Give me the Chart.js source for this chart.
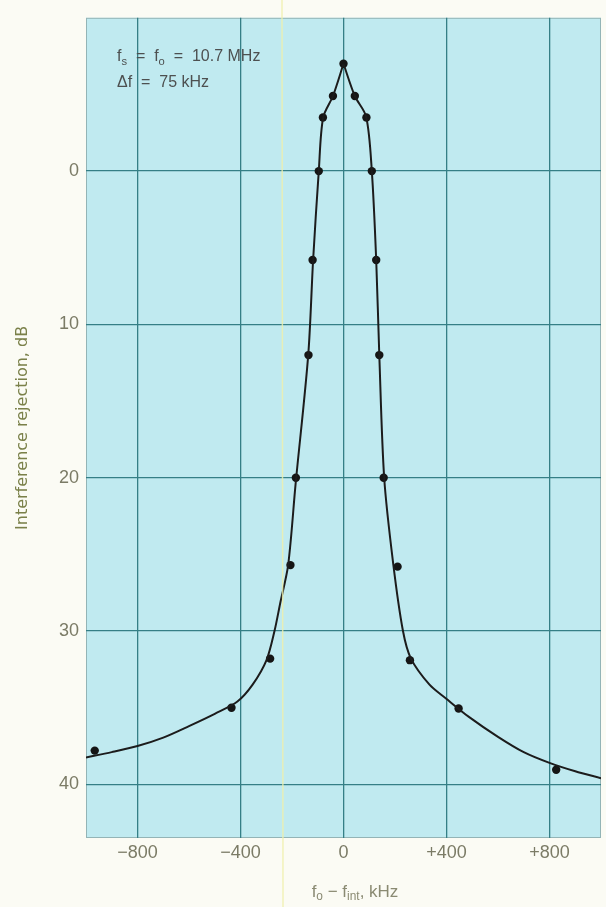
<!DOCTYPE html>
<html>
<head>
<meta charset="utf-8">
<script src="https://cdn.jsdelivr.net/npm/chart.js@4.4.1/dist/chart.umd.min.js"></script>
<style>
  html, body { margin: 0; background: #fbfbf4; }
  #wrap { width: 606px; height: 907px; }
</style>
</head>
<body>
<div id="wrap"><canvas id="c"></canvas></div>
<script>
/* ── axes ─────────────────────────────────────────────── */
const X_TICKS = [-800, -400, 0, 400, 800];
const Y_TICKS = [0, 10, 20, 30, 40];

/* ── fitted curve, split at the peak so the tip stays sharp ── */
const LEFT_KHZ  = [-1000, -900, -800, -700, -600, -500, -412, -353, -299, -268, -246, -215, -186, -137, -118, -96, -79, -41, 0];
const LEFT_DB   = [38.25, 37.9, 37.5, 36.95, 36.2, 35.4, 34.6, 33.5, 31.9, 30.0, 28.2, 25.7, 20.4, 12.0, 5.8, 0.0, -3.5, -4.9, -7.0];
const RIGHT_KHZ = [0, 44, 88, 110, 127, 139, 158, 193, 231, 262, 334, 398, 487, 600, 700, 800, 900, 1000];
const RIGHT_DB  = [-7.0, -4.9, -3.55, 0.0, 5.8, 12.0, 20.0, 25.6, 30.0, 31.8, 33.5, 34.4, 35.6, 36.9, 37.9, 38.6, 39.15, 39.6];

/* ── measured points ──────────────────────────────────── */
const PT_KHZ = [-966, -435, -285, -206, -185, -136, -120, -96, -80, -41, 0, 44, 89, 110, 127, 139, 156, 210, 258, 447, 826];
const PT_DB  = [37.8, 35.0, 31.8, 25.7, 20.0, 12.0, 5.8, 0.0, -3.5, -4.9, -7.0, -4.9, -3.5, 0.0, 5.8, 12.0, 20.0, 25.8, 31.9, 35.05, 39.05];

const xy = (xs, ys) => xs.map((x, i) => ({ x, y: ys[i] }));

const GRID = "#357f86";
const TICK = "#7b7b66";
const FONT = "'Liberation Sans', Arial, sans-serif";

// graph paper + scan fold line + notes
const paper = {
  id: "paper",
  beforeDraw(chart) {
    const { ctx, chartArea: a } = chart;
    ctx.save();
    ctx.fillStyle = "#c0eaf0";
    ctx.fillRect(a.left, a.top, a.right - a.left, a.bottom - a.top);
    ctx.strokeStyle = "#93b4b6";
    ctx.lineWidth = 1;
    ctx.strokeRect(a.left + 0.5, a.top + 0.5, a.right - a.left - 1, a.bottom - a.top - 1);
    ctx.restore();
  },
  afterDraw(chart) {
    const { ctx } = chart;
    ctx.save();
    // pale fold line of the scan
    ctx.strokeStyle = "rgba(240,240,170,0.8)";
    ctx.lineWidth = 1.5;
    ctx.beginPath(); ctx.moveTo(282, 0); ctx.lineTo(283, 907); ctx.stroke();

    const run = (parts, x, y, color, size) => {
      ctx.fillStyle = color;
      ctx.textBaseline = "middle";
      for (const [t, sub] of parts) {
        ctx.font = (sub ? size * 0.7 : size) + "px " + FONT;
        ctx.fillText(t, x, sub ? y + size * 0.3 : y);
        x += ctx.measureText(t).width;
      }
    };
    const width = (parts, size) => parts.reduce((w, [t, sub]) => {
      ctx.font = (sub ? size * 0.7 : size) + "px " + FONT;
      return w + ctx.measureText(t).width;
    }, 0);

    run([["f", 0], ["s", 1], ["  =  f", 0], ["o", 1], ["  =  10.7 MHz", 0]], 117, 57, "#4d5050", 16);
    run([["Δf  =  75 kHz", 0]], 117, 83, "#4d5050", 16);

    const xt = [["f", 0], ["o", 1], [" − f", 0], ["int", 1], [", kHz", 0]];
    run(xt, 355 - width(xt, 17) / 2, 892, "#8a8a72", 17);
    ctx.restore();
  }
};

const curve = (xs, ys) => ({
  data: xy(xs, ys), showLine: true, borderColor: "#1c1c1c", borderWidth: 2,
  pointRadius: 0, tension: 0.3,
});

new Chart(document.getElementById("c"), {
  type: "scatter",
  data: {
    datasets: [
      curve(LEFT_KHZ, LEFT_DB),
      curve(RIGHT_KHZ, RIGHT_DB),
      { data: xy(PT_KHZ, PT_DB), pointRadius: 4.2, pointBackgroundColor: "#151515",
        pointBorderColor: "#151515", pointBorderWidth: 0 },
    ],
  },
  options: {
    responsive: true,
    maintainAspectRatio: false,
    animation: false,
    layout: { padding: { top: 10, right: 5, left: 0, bottom: 0 } },
    plugins: { legend: { display: false }, tooltip: { enabled: false } },
    scales: {
      x: {
        type: "linear", min: -1000, max: 1000,
        afterBuildTicks: (s) => { s.ticks = X_TICKS.map((value) => ({ value })); },
        afterFit: (s) => { s.height = 69; },
        grid: { color: GRID, lineWidth: 1.3, drawTicks: false },
        border: { display: false },
        ticks: {
          padding: 4, color: TICK, font: { family: FONT, size: 18 },
          callback: (v) => (v > 0 ? "+" + v : v < 0 ? "−" + -v : "0"),
        },
      },
      y: {
        type: "linear", min: -10, max: 43.5, reverse: true,
        afterBuildTicks: (s) => { s.ticks = Y_TICKS.map((value) => ({ value })); },
        afterFit: (s) => { s.width = 86; },
        grid: { color: GRID, lineWidth: 1.3, drawTicks: false },
        border: { display: false },
        ticks: { padding: 7, color: TICK, font: { family: FONT, size: 18 } },
        title: {
          display: true, text: "Interference rejection, dB", color: "#7a8049",
          font: { family: "'DejaVu Sans', sans-serif", size: 16 }, padding: { top: 13, bottom: 0 },
        },
      },
    },
  },
  plugins: [paper],
});
</script>
</body>
</html>
